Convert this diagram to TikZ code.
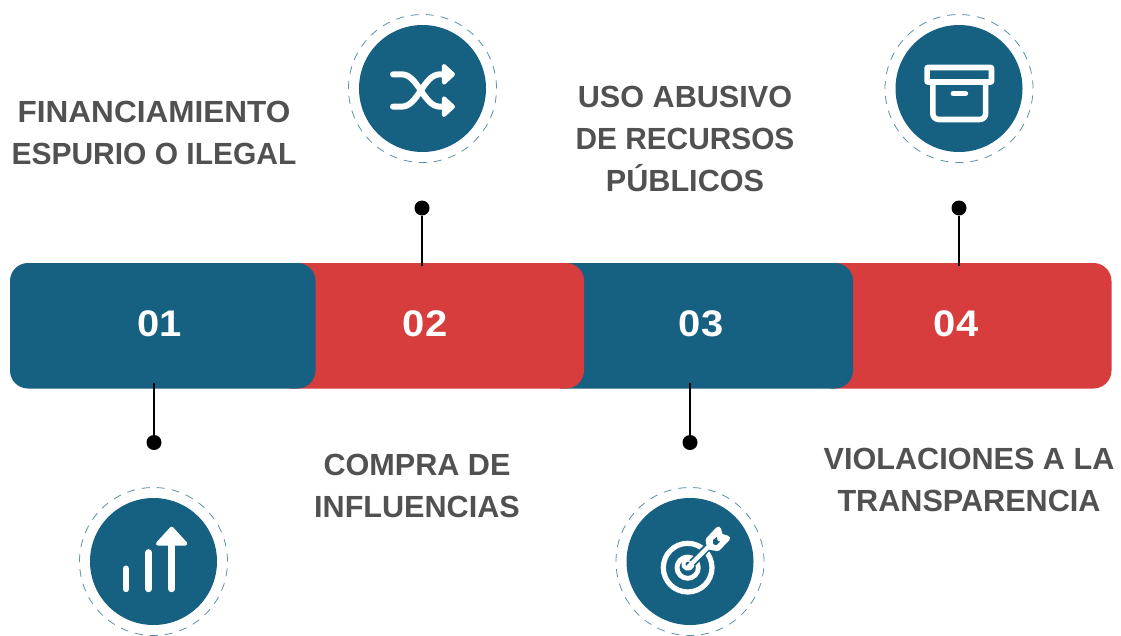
\documentclass[tikz,border=0pt]{standalone}
\usepackage{fontspec}
\setmainfont{Liberation Sans}
\definecolor{blu}{HTML}{166082}
\definecolor{rd}{HTML}{D83D3E}
\definecolor{txt}{HTML}{515151}
\tikzset{
 x=1pt,y=-1pt,
 disc/.style={circle,fill=blu,minimum size=127pt,inner sep=0pt,draw=none},
 halo/.style={circle,draw=blu!70!white,line width=.8pt,dash pattern=on 8pt off 7pt,minimum size=148pt,inner sep=0pt},
 num/.style={text=white,font=\fontsize{37}{37}\selectfont\bfseries,inner sep=0pt,anchor=center},
 lbl/.style={text=txt,font=\fontsize{30.6}{42}\selectfont\bfseries,align=center,inner sep=0pt,anchor=center},
 dot/.style={circle,fill=black,minimum size=15pt,inner sep=0pt,draw=none},
 conn/.style={draw=black,line width=2.2pt},
 ico/.style={draw=white,line width=#1,line cap=round,line join=round},
 ico/.default=6pt,
 tip/.style={fill=white,draw=white,line width=4pt,line join=round},
}
\newcommand{\hsc}[2]{\scalebox{#1}[1]{#2}}
\begin{document}
\begin{tikzpicture}
\useasboundingbox (0,0) rectangle (1121,635);
% bar
\path[fill=rd] (830,263) {[rounded corners=18pt] -- (1111.5,263) -- (1111.5,388.5)} -- (830,388.5) -- cycle;
\path[fill=blu] (560,263) {[rounded corners=18pt] -- (853,263) -- (853,388.5)} -- (560,388.5) -- cycle;
\path[fill=rd] (290,263) {[rounded corners=18pt] -- (584,263) -- (584,388.5)} -- (290,388.5) -- cycle;
\path[fill=blu,rounded corners=18pt] (10,263) rectangle (315.5,388.5);
\node[num] (n1) at (160,323.5) {\hsc{1.08}{01}};
\node[num] (n2) at (425,323.5) {\hsc{1.08}{02}};
\node[num] (n3) at (701,323.5) {\hsc{1.08}{03}};
\node[num] (n4) at (956,323.5) {\hsc{1.08}{04}};
% anchors on the bar
\coordinate (b1) at (154,383);
\coordinate (b2) at (422,266);
\coordinate (b3) at (690,383);
\coordinate (b4) at (959,266);
% dots
\node[dot] (d1) at (154,442.5) {};
\node[dot] (d2) at (422,208) {};
\node[dot] (d3) at (690,442.5) {};
\node[dot] (d4) at (959,208) {};
\draw[conn] (b1) -- (d1);
\draw[conn] (b2) -- (d2);
\draw[conn] (b3) -- (d3);
\draw[conn] (b4) -- (d4);
% circles
\node[halo] (h1) at (153.5,561.5) {}; \node[disc] (c1) at (153.5,561.5) {};
\node[halo] (h2) at (422.5,88.5) {}; \node[disc] (c2) at (422.5,88.5) {};
\node[halo] (h3) at (690,561.5) {}; \node[disc] (c3) at (690,561.5) {};
\node[halo] (h4) at (959,88.5) {}; \node[disc] (c4) at (959,88.5) {};
% labels
\node[lbl] (l1) at (154,132.8) {\hsc{1.03}{FINANCIAMIENTO}\\\hsc{.98}{ESPURIO O ILEGAL}};
\node[lbl] (l2) at (417,485.8) {COMPRA DE\\INFLUENCIAS};
\node[lbl] (l3) at (685,138.8) {USO ABUSIVO\\\hsc{.975}{DE RECURSOS}\\PÚBLICOS};
\node[lbl] (l4) at (969,479.8) {VIOLACIONES A LA\\TRANSPARENCIA};
% icon: chart
\begin{scope}[shift={(70,475)},x=.3333pt,y=-.3333pt]
\draw[ico=6.4pt] (168,281) -- (168,342);
\draw[ico=6.4pt] (236,232) -- (236,342);
\draw[ico=6.4pt] (305,205) -- (305,342);
\path[tip] (305,161) -- (346,206) -- (264,206) -- cycle;
\end{scope}
% icon: shuffle
\begin{scope}[shift={(340,5)},x=.3333pt,y=-.3333pt]
\draw[ico] (159,208) -- (185,208) .. controls (235,208) and (250,305) .. (300,305) -- (315,305);
\draw[ico] (159,305) -- (185,305) .. controls (235,305) and (250,208) .. (300,208) -- (315,208);
\path[tip] (312,183) -- (339,208) -- (312,233) -- cycle;
\path[tip] (312,280) -- (339,305) -- (312,330) -- cycle;
\end{scope}
% icon: target
\begin{scope}[shift={(605,475)},x=.3333pt,y=-.3333pt]
\draw[ico=5.2pt] (248,278) circle[radius=73];
\draw[ico=4.8pt] (248,278) circle[radius=32];
\draw[ico=4pt] (262,272) arc[start angle=20,end angle=340,radius=14];
\draw[draw=blu,line width=8pt] (262,264) -- (312,212);
\draw[ico=4.4pt] (250,276) -- (318,208);
\path[tip,line width=5.5pt] (310,195) -- (340,163) -- (346,184) -- (367,190) -- (338,220) -- (314,216) -- cycle;
\path[fill=blu] (324,195) -- (335,186) -- (338,197) -- (345,200) -- (335,210) -- (325,208) -- cycle;
\end{scope}
% icon: box
\begin{scope}[shift={(875,5)},x=.3333pt,y=-.3333pt]
\draw[ico=5.6pt,rounded corners=.5pt] (156.5,187.5) rectangle (349.5,231);
\draw[ico=5.6pt,rounded corners=6pt,line cap=butt] (173.5,231) -- (173.5,343.5) -- (332,343.5) -- (332,231);
\draw[ico=5.6pt] (235,266) -- (271,266);
\end{scope}
\end{tikzpicture}
\end{document}
